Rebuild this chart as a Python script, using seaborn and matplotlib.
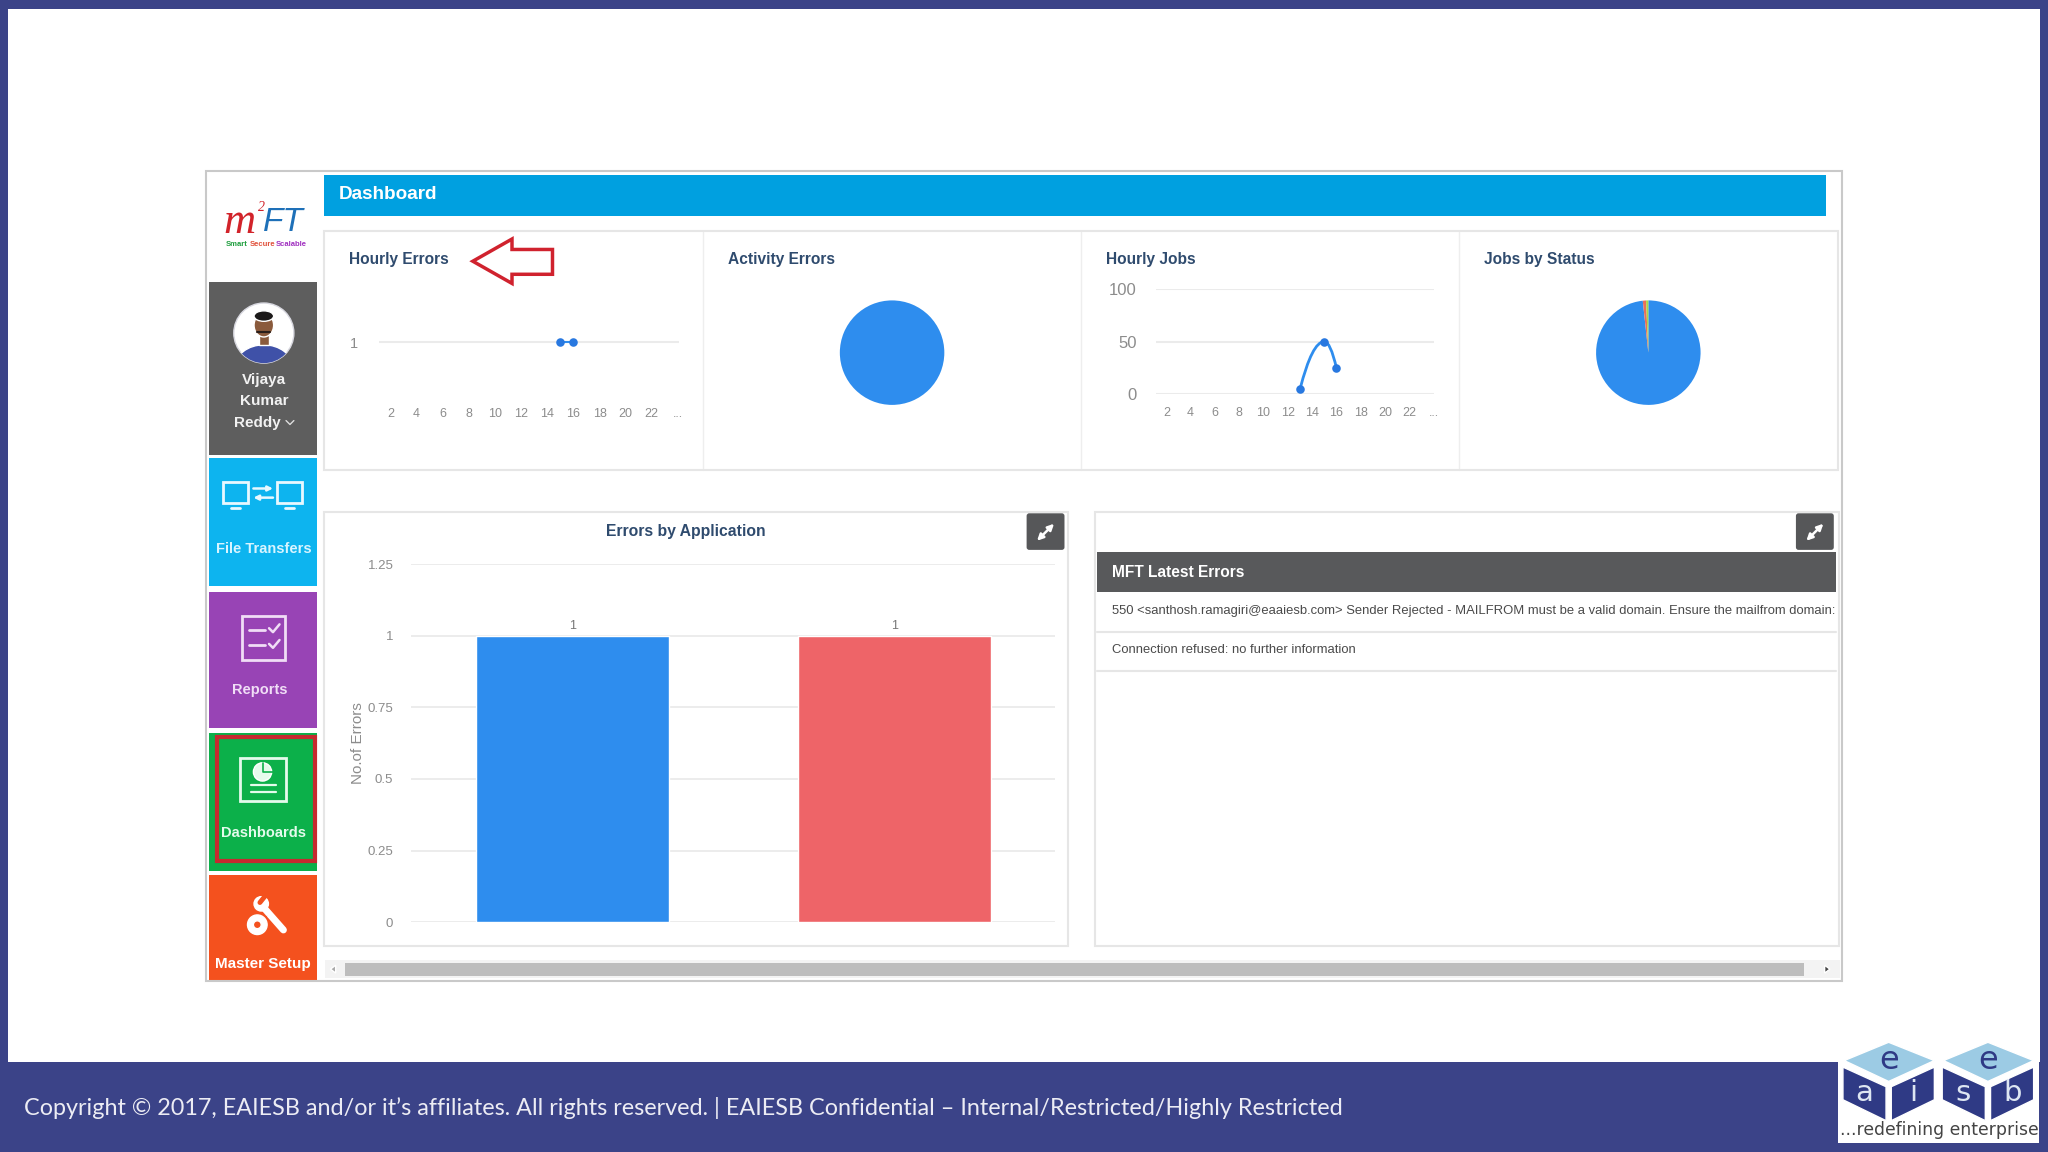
import matplotlib
matplotlib.use('Agg')
import matplotlib.pyplot as plt
import seaborn as sns
from matplotlib.patches import Rectangle, Circle, Ellipse, Polygon, FancyBboxPatch, PathPatch
from matplotlib.path import Path

# chart values
hourly_err_x = [15, 16]
hourly_err_y = [1, 1]
hourly_jobs_x = [13, 15, 16]
hourly_jobs_y = [5, 50, 25]
hour_ticks = [2, 4, 6, 8, 10, 12, 14, 16, 18, 20, 22, 24]
hour_labels = ['2', '4', '6', '8', '10', '12', '14', '16', '18', '20', '22', '...']
activity_errors = [1]
jobs_status = [98.3, 1.0, 0.7]
apps = ['App 1', 'App 2']
app_errors = [1, 1]
app_ticks = [0, 0.25, 0.5, 0.75, 1, 1.25]
app_tick_labels = ['0', '0.25', '0.5', '0.75', '1', '1.25']
latest_errors = [
    '550 <santhosh.ramagiri@eaaiesb.com> Sender Rejected - MAILFROM must be a valid domain. Ensure the mailfrom domain:',
    'Connection refused: no further information',
]
footer_text = ('Copyright © 2017, EAIESB and/or it’s affiliates. All rights reserved. | '
               'EAIESB Confidential – Internal/Restricted/Highly Restricted')

BLUE = '#2E8DEE'
RED = '#EE6468'
NAVY = '#3B4388'
TITLE = '#2F4B6E'
TICK = '#8C8C8C'
GRID = '#EBEBEB'
EDGE = '#E6E6E6'

sns.set_theme(style='white')
plt.rcParams['font.family'] = ['Liberation Sans', 'DejaVu Sans']

W, H = 1568, 882  # layout is measured in these units, saved at 2048x1152
fig = plt.figure(figsize=(20.48, 11.52), dpi=100, facecolor='white')
bg = fig.add_axes([0, 0, 1, 1])
bg.set_xlim(0, W)
bg.set_ylim(H, 0)
bg.axis('off')


def box(x0, y0, x1, y1, color, **kw):
    bg.add_patch(Rectangle((x0, y0), x1 - x0, y1 - y0, facecolor=color, edgecolor='none', **kw))


def outline(x0, y0, x1, y1, color, lw=1.5, zorder=3):
    bg.add_patch(Rectangle((x0, y0), x1 - x0, y1 - y0, facecolor='none', edgecolor=color, lw=lw, zorder=zorder))


def label(x, y, s, size=10, color='white', weight='normal', ha='center', **kw):
    return bg.text(x, y + 1, s, fontsize=size, color=color, fontweight=weight, ha=ha, va='center', **kw)


def chart_axes(x0, y0, x1, y1):
    ax = fig.add_axes([x0 / W, 1 - y1 / H, (x1 - x0) / W, (y1 - y0) / H])
    ax.patch.set_alpha(0)
    sns.despine(ax=ax, left=True, bottom=True)
    return ax


def expand_button(x0, y0):
    bg.add_patch(FancyBboxPatch((x0 + 2, y0 + 2), 25, 24, boxstyle='round,pad=2', facecolor='#565759', edgecolor='none', zorder=4))
    bg.annotate('', xy=(x0 + 21, y0 + 8), xytext=(x0 + 8, y0 + 21), zorder=5,
                arrowprops=dict(arrowstyle='<|-|>', color='white', lw=1.8, mutation_scale=9, shrinkA=0, shrinkB=0))


# slide frame
box(0, 0, W, 7, NAVY)
box(0, 0, 6, H, NAVY)
box(1562, 0, W, H, NAVY)
box(0, 813, W, H, NAVY)
box(1407, 797, 1561, 875, 'white')
label(18, 847, footer_text, size=16.8, color='#ECECF4', ha='left', family=['Lato', 'DejaVu Sans'])

# eaiesb logo
for dx, top, left, right in [(0, 'e', 'a', 'i'), (76, 'e', 's', 'b')]:
    bg.add_patch(Polygon([(1412 + dx, 812), (1446 + dx, 798), (1481 + dx, 812), (1446 + dx, 828)], facecolor='#9CCBE4'))
    bg.add_patch(Polygon([(1411 + dx, 817), (1444 + dx, 832), (1444 + dx, 858), (1411 + dx, 842)], facecolor='#2F3A85'))
    bg.add_patch(Polygon([(1448 + dx, 832), (1481 + dx, 817), (1481 + dx, 842), (1448 + dx, 858)], facecolor='#2F3A85'))
    label(1446 + dx, 811, top, size=23, color='#2F3A85', family='DejaVu Sans')
    label(1427 + dx, 836, left, size=21, color='#DDE6F2', family='DejaVu Sans')
    label(1465 + dx, 836, right, size=21, color='#DDE6F2', family='DejaVu Sans')
label(1485, 864, '...redefining enterprise', size=12.4, color='#444444', family='DejaVu Sans')

# screenshot frame and sidebar
outline(157.5, 131, 1410.5, 751, '#C9C9C9', lw=1.5)
box(160, 216, 243, 348, '#5E5E5E')
box(160, 351, 243, 449, '#0DB4EF')
box(160, 453, 243, 557, '#9844B5')
box(160, 561, 243, 667, '#0CB04A')
box(160, 670, 243, 750, '#F4511E')
outline(166, 564, 241, 659, '#C62A2F', lw=3, zorder=4)

label(171, 169, 'm', size=32, color='#D2232A', style='italic', ha='left', family='Liberation Serif')
label(200, 158, '2', size=10, color='#D2232A', style='italic', family='Liberation Serif')
label(201, 169, 'FT', size=24, color='#1E70B8', style='italic', ha='left')
label(173, 186, 'Smart', size=5.5, color='#1E9E3E', weight='bold', ha='left')
label(191, 186, 'Secure', size=5.5, color='#E0503A', weight='bold', ha='left')
label(211, 186, 'Scalable', size=5.5, color='#A030C0', weight='bold', ha='left')

# avatar
avatar = Circle((202, 255), 23, facecolor='white', edgecolor='#D8D8E0', lw=1)
bg.add_patch(avatar)
shirt = Ellipse((202, 281), 44, 34, facecolor='#3F51A8')
bg.add_patch(shirt)
shirt.set_clip_path(avatar)
bg.add_patch(Rectangle((198, 256), 8, 8, facecolor='#8A5A3C'))
bg.add_patch(Ellipse((202, 249), 15, 18, facecolor='#8A5A3C'))
bg.add_patch(Ellipse((202, 242), 15, 8, facecolor='#1C1A1A'))
bg.plot([197, 207], [254, 254], color='#2A1E1A', lw=1.5)
label(202, 290, 'Vijaya', size=11, color='#F2F2F2', weight='bold')
label(202, 306, 'Kumar', size=11, color='#F2F2F2', weight='bold')
label(197, 323, 'Reddy', size=11, color='#F2F2F2', weight='bold')
bg.plot([219, 222, 225], [322, 325, 322], color='#DDDDDD', lw=1)

# file transfer icon
for x in (171, 212):
    outline(x, 369, x + 19, 385, '#E8F8FF', lw=2)
    bg.plot([x + 6, x + 13], [389, 389], color='#E8F8FF', lw=2)
bg.annotate('', xy=(209, 374), xytext=(194, 374), arrowprops=dict(arrowstyle='-|>', color='#E8F8FF', lw=1.8, mutation_scale=7, shrinkA=0, shrinkB=0))
bg.annotate('', xy=(194, 381), xytext=(209, 381), arrowprops=dict(arrowstyle='-|>', color='#E8F8FF', lw=1.8, mutation_scale=7, shrinkA=0, shrinkB=0))
label(202, 419, 'File Transfers', size=10.5, color='#D8F4FF', weight='bold')

# reports icon
outline(185, 472, 218, 505, '#F0DDF6', lw=2)
for y in (482, 494):
    bg.plot([191, 203], [y, y], color='#F0DDF6', lw=2)
    bg.plot([206, 209, 214], [y - 1, y + 2, y - 4], color='#F0DDF6', lw=1.8)
label(199, 527, 'Reports', size=10.5, color='#F0DDF6', weight='bold')

# dashboards icon
outline(184, 580, 219, 613, '#E4FBEC', lw=2)
bg.add_patch(Circle((201, 591), 7, facecolor='#E4FBEC'))
bg.plot([201, 201, 209], [584, 591, 591], color='#0CB04A', lw=1.2)
for y in (601, 606):
    bg.plot([192, 211], [y, y], color='#E4FBEC', lw=1.6)
label(202, 637, 'Dashboards', size=10.5, color='#E4FBEC', weight='bold')

# master setup icon
bg.plot([202, 217], [695, 712], color='white', lw=5, solid_capstyle='round')
bg.add_patch(Circle((200, 692), 5.5, facecolor='white'))
bg.plot([199, 203], [691, 686], color='#F4511E', lw=3.5)
bg.plot([197], [708], marker=(8, 1, 0), ms=20, color='#F4511E', mew=0, zorder=4)
bg.add_patch(Circle((197, 708), 7.5, facecolor='white', zorder=5))
bg.add_patch(Circle((197, 708), 3, facecolor='#F4511E', zorder=6))
label(201, 737, 'Master Setup', size=11, color='white', weight='bold')

# dashboard header and panels
box(248, 134, 1398, 165, '#00A0E0')
label(259, 148, 'Dashboard', size=13.6, weight='bold', ha='left')
outline(248, 177, 1407, 360, EDGE)
for x in (538, 828, 1117):
    bg.plot([x, x], [177, 360], color='#EEEEEE', lw=1)
outline(248, 392, 818, 724, EDGE)
outline(838, 392, 1408, 724, EDGE)
for x, s in [(267, 'Hourly Errors'), (557, 'Activity Errors'), (847, 'Hourly Jobs'), (1136, 'Jobs by Status')]:
    label(x, 198, s, size=11.2, color=TITLE, weight='bold', ha='left')
bg.add_patch(Polygon([(362, 200), (392, 183), (392, 191), (423, 191), (423, 210), (392, 210), (392, 217)],
                     facecolor='white', edgecolor='#D0222E', lw=2.5, joinstyle='miter'))

# hourly errors
ax = chart_axes(290, 222, 520, 302)
sns.lineplot(x=hourly_err_x, y=hourly_err_y, color=BLUE, lw=1.5, ax=ax)
sns.scatterplot(x=hourly_err_x, y=hourly_err_y, color='#2878E0', s=38, linewidth=0, ax=ax, zorder=4)
ax.set_xlim(1.1, 24.1)
ax.set_ylim(0, 2)
ax.set_yticks([1], ['1'])
ax.set_xticks(hour_ticks, hour_labels)
ax.yaxis.grid(True, color=GRID, lw=1.5)
ax.tick_params(axis='y', length=0, pad=15, labelsize=10.5, labelcolor=TICK)
ax.tick_params(axis='x', length=0, pad=9.5, labelsize=9, labelcolor=TICK)

# activity errors
ax = chart_axes(643, 230, 723, 310)
ax.pie(activity_errors, colors=[BLUE], radius=1, startangle=90, wedgeprops=dict(linewidth=0))
ax.set_xlim(-1, 1)
ax.set_ylim(-1, 1)

# hourly jobs, the original line is a spline so the joins get a curve control point
ax = chart_axes(885, 221, 1098, 302)
verts = [(hourly_jobs_x[0], hourly_jobs_y[0])]
codes = [Path.MOVETO]
for x0, y0, x1, y1 in zip(hourly_jobs_x, hourly_jobs_y, hourly_jobs_x[1:], hourly_jobs_y[1:]):
    verts += [((x0 + x1) / 2, max(y0, y1)), (x1, y1)]
    codes += [Path.CURVE3, Path.CURVE3]
ax.add_patch(PathPatch(Path(verts, codes), facecolor='none', edgecolor=BLUE, lw=2))
sns.scatterplot(x=hourly_jobs_x, y=hourly_jobs_y, color='#2878E0', s=38, linewidth=0, ax=ax, zorder=4)
ax.set_xlim(1.14, 24.04)
ax.set_ylim(0, 100)
ax.set_yticks([0, 50, 100], ['0', '50', '100'])
ax.set_xticks(hour_ticks, hour_labels)
ax.yaxis.grid(True, color=GRID, lw=1.5)
ax.tick_params(axis='y', length=0, pad=14, labelsize=12, labelcolor=TICK)
ax.tick_params(axis='x', length=0, pad=9, labelsize=9, labelcolor=TICK)

# jobs by status
ax = chart_axes(1222, 230, 1302, 310)
ax.pie(jobs_status, colors=[BLUE, '#E8705A', '#A8D84A'], radius=1, startangle=90, counterclock=False,
       wedgeprops=dict(linewidth=0))
ax.set_xlim(-1, 1)
ax.set_ylim(-1, 1)

# errors by application
label(525, 406, 'Errors by Application', size=11.3, color=TITLE, weight='bold')
expand_button(786, 393)
ax = chart_axes(315, 432, 808, 706)
sns.barplot(x=apps, y=app_errors, hue=apps, palette=[BLUE, RED], width=0.6, saturation=1, legend=False, ax=ax, zorder=3)
ax.set_xlim(-0.5, 1.5)
ax.set_ylim(0, 1.25)
ax.set_yticks(app_ticks, app_tick_labels)
ax.set_xticks([])
ax.yaxis.grid(True, color=GRID, lw=1.3)
ax.set_axisbelow(True)
ax.tick_params(axis='y', length=0, pad=13, labelsize=9.5, labelcolor=TICK)
ax.set_ylabel('No.of Errors', fontsize=11, color=TICK, labelpad=1.5)
for bars in ax.containers:
    ax.bar_label(bars, labels=['1'], padding=2.5, fontsize=9, color='#777777')

# latest errors table
expand_button(1375, 393)
box(840, 423, 1406, 453, '#58595B')
label(851, 437, 'MFT Latest Errors', size=11.2, weight='bold', ha='left')
label(851, 467, latest_errors[0], size=9.35, color='#4A4A4A', ha='left')
label(851, 497, latest_errors[1], size=9.35, color='#4A4A4A', ha='left')
for y in (484, 514):
    bg.plot([840, 1406], [y, y], color='#E6E6E6', lw=1.5)

# scrollbar
box(249, 735, 1409, 749, '#F3F3F3')
box(264, 737, 1381, 747, '#BDBDBD')
bg.add_patch(Polygon([(257, 739), (253, 742), (257, 745)], facecolor='#AAAAAA'))
bg.add_patch(Polygon([(1397, 739), (1401, 742), (1397, 745)], facecolor='#444444'))

fig.savefig('out.png', dpi=100)
plt.close(fig)
